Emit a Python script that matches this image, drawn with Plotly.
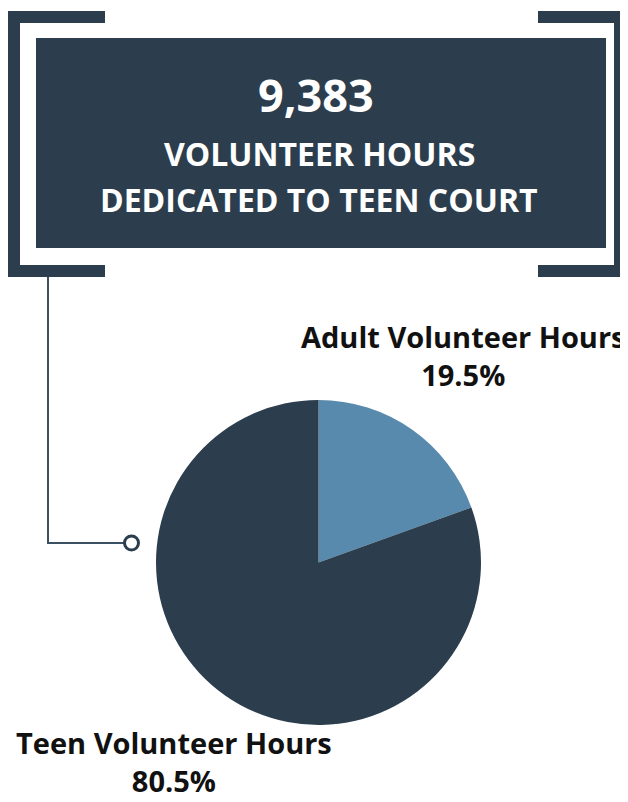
import plotly.graph_objects as go

# The page body has a default 8px margin; work in reference-pixel coordinates
OFF = 8
W, H = 628 - OFF, 802 - OFF

# ---- data ----
categories = ["Adult Volunteer Hours", "Teen Volunteer Hours"]
percent_values = [19.5, 80.5]
slice_colors = ["#578aad", "#2c3e4d"]
total_hours = 9383
headline_lines = ["VOLUNTEER HOURS", "DEDICATED TO TEEN COURT"]

DARK = "#2c3e4d"
LINE = "#3b5162"


def px(x):
    return (x - OFF) / W


def py(y):
    return 1 - (y - OFF) / H


fig = go.Figure()

fig.add_trace(go.Pie(
    labels=categories,
    values=percent_values,
    marker=dict(colors=slice_colors, line=dict(width=0)),
    sort=False,
    direction="clockwise",
    rotation=0,
    textinfo="none",
    hoverinfo="label+percent",
    showlegend=False,
    domain=dict(x=[px(156), px(481)], y=[py(725), py(400)]),
))


def rect(x0, y0, x1, y1):
    return dict(type="rect", xref="paper", yref="paper",
                x0=px(x0), x1=px(x1), y0=py(y1), y1=py(y0),
                fillcolor=DARK, line=dict(width=0), layer="below")


shapes = [
    # left bracket
    rect(7, 11, 20, 277),
    rect(7, 11, 105, 23),
    rect(7, 265, 105, 277),
    # right bracket
    rect(614, 11, 640, 277),
    rect(538, 11, 640, 23),
    rect(538, 265, 640, 277),
    # main box
    rect(36, 38, 606, 248),
]
# connector line
shapes.append(dict(type="path", xref="paper", yref="paper",
                   path=f"M {px(48)},{py(277)} L {px(48)},{py(543)} L {px(124)},{py(543)}",
                   line=dict(color=LINE, width=2)))
# hollow circle
shapes.append(dict(type="circle", xref="paper", yref="paper",
                   x0=px(124.5), x1=px(138.5), y0=py(550), y1=py(536),
                   fillcolor="white", line=dict(color=DARK, width=3)))

annotations = []
annotations.append(dict(text=f"<b>{total_hours:,}</b>", x=px(316), y=py(95), xref="paper", yref="paper",
                        showarrow=False, xanchor="center", yanchor="middle",
                        font=dict(family="Open Sans", size=45, color="white")))
for i, line in enumerate(headline_lines):
    annotations.append(dict(text=f"<b>{line}</b>", x=px(319), y=py(153 + 46.5 * i), xref="paper", yref="paper",
                            showarrow=False, xanchor="center", yanchor="middle",
                            font=dict(family="Open Sans", size=32, color="white")))

# (x, y, yanchor) for each slice label block
label_pos = {"Adult Volunteer Hours": (463, 356, "middle"), "Teen Volunteer Hours": (174, 802, "bottom")}
for cat, val in zip(categories, percent_values):
    lx, ly, ya = label_pos[cat]
    annotations.append(dict(text=f"<b>{cat}</b><br><b>{val}%</b>", x=px(lx), y=py(ly),
                            xref="paper", yref="paper", align="center",
                            showarrow=False, xanchor="center", yanchor=ya,
                            font=dict(family="Open Sans", size=29, color="#111111")))

fig.update_layout(
    width=W, height=H,
    margin=dict(l=0, r=0, t=0, b=0),
    paper_bgcolor="white",
    plot_bgcolor="white",
    shapes=shapes,
    annotations=annotations,
)

fig.write_html("out.html", config={"displayModeBar": False})
